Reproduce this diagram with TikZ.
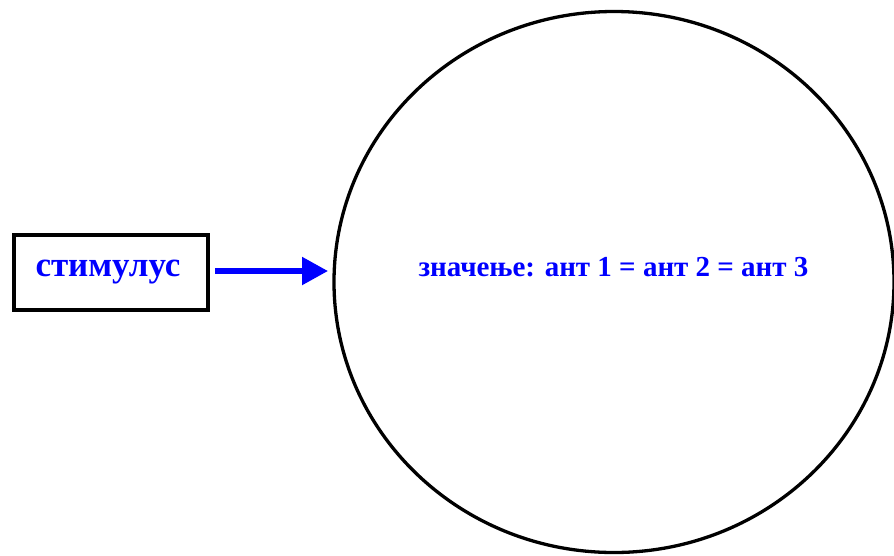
\documentclass[tikz,border=0pt]{standalone}
\usepackage{fontspec}
\setmainfont{Liberation Serif}
\usetikzlibrary{shapes.geometric,arrows.meta}
\begin{document}
\begin{tikzpicture}[x=1pt,y=-1pt,
  lbl/.style={text=blue,font=\bfseries},
  stimbox/.style={draw=black,line width=4pt,minimum width=194pt,minimum height=75pt,inner sep=0pt},
  blob/.style={draw=black,line width=3.3pt,ellipse,minimum width=560pt,minimum height=541pt,inner sep=0pt},
  flow/.style={draw=blue,line width=5.3pt,-{Triangle[length=26pt,width=27pt]}}]
\useasboundingbox (0,0) rectangle (894,555);
\node[stimbox] (s) at (110.5,272.5) {};
\node[lbl,font=\bfseries\fontsize{35}{38}\selectfont] (st) at (108,272) {стимулус};
\node[lbl,font=\bfseries\fontsize{29}{32}\selectfont] (m) at (613.5,267) {значење: ант 1 = ант 2 = ант 3};
\node[blob] (e) at (614,282) {};
\coordinate (a1) at (215,271);
\coordinate (a2) at (328,271);
\draw[flow] (a1) -- (a2);
\end{tikzpicture}
\end{document}
